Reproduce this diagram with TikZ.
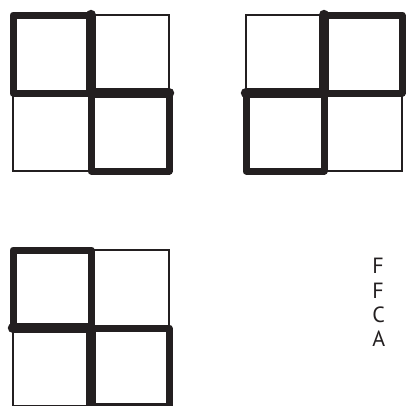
\documentclass[tikz,border=0pt]{standalone}
\usepackage{fontspec}
\setmainfont{PT Sans}
\definecolor{ink}{HTML}{231F20}
\begin{document}
\begin{tikzpicture}[x=0.75pt,y=-0.75pt,
  thinline/.style={draw=ink,line width=1.2*0.75pt},
  boldline/.style={draw=ink,line width=7*0.75pt,line join=round,line cap=round},
  heavyline/.style={draw=ink,line width=10.5*0.75pt,line cap=round},
  lbl/.style={inner sep=0pt,anchor=base west,text=ink,font=\fontsize{16.5pt}{19pt}\selectfont}]
\useasboundingbox (0,0) rectangle (407,405);
% Figure 1
\draw[thinline] (13,15) rectangle (169,171);
\draw[thinline] (91,15) -- (91,171);
\draw[thinline] (13,93) -- (169,93);
\draw[boldline] (13,15) rectangle (91,93);
\draw[boldline] (91,93) rectangle (169,171);
\draw[heavyline] (91,93) -- (91,15);
\draw[heavyline] (91,93) -- (169,93);
% Figure 2
\draw[thinline] (246,15) rectangle (402,171);
\draw[thinline] (324,15) -- (324,171);
\draw[thinline] (246,93) -- (402,93);
\draw[boldline] (324,15) rectangle (402,93);
\draw[boldline] (246,93) rectangle (324,171);
\draw[heavyline] (324,93) -- (324,15);
\draw[heavyline] (324,93) -- (246,93);
% Figure 3
\draw[thinline] (13,250) rectangle (169,406);
\draw[thinline] (91,250) -- (91,406);
\draw[thinline] (13,328) -- (169,328);
\draw[boldline] (13,250) rectangle (91,328);
\draw[boldline] (91,328) rectangle (169,406);
\draw[heavyline] (91,328) -- (13,328);
\draw[heavyline] (91,328) -- (91,406);
% Text
\node[lbl] (t1) at (372,273) {F};
\node[lbl] (t2) at (372,298) {F};
\node[lbl] (t3) at (372,322) {C};
\node[lbl] (t4) at (372,346) {A};
\end{tikzpicture}
\end{document}
